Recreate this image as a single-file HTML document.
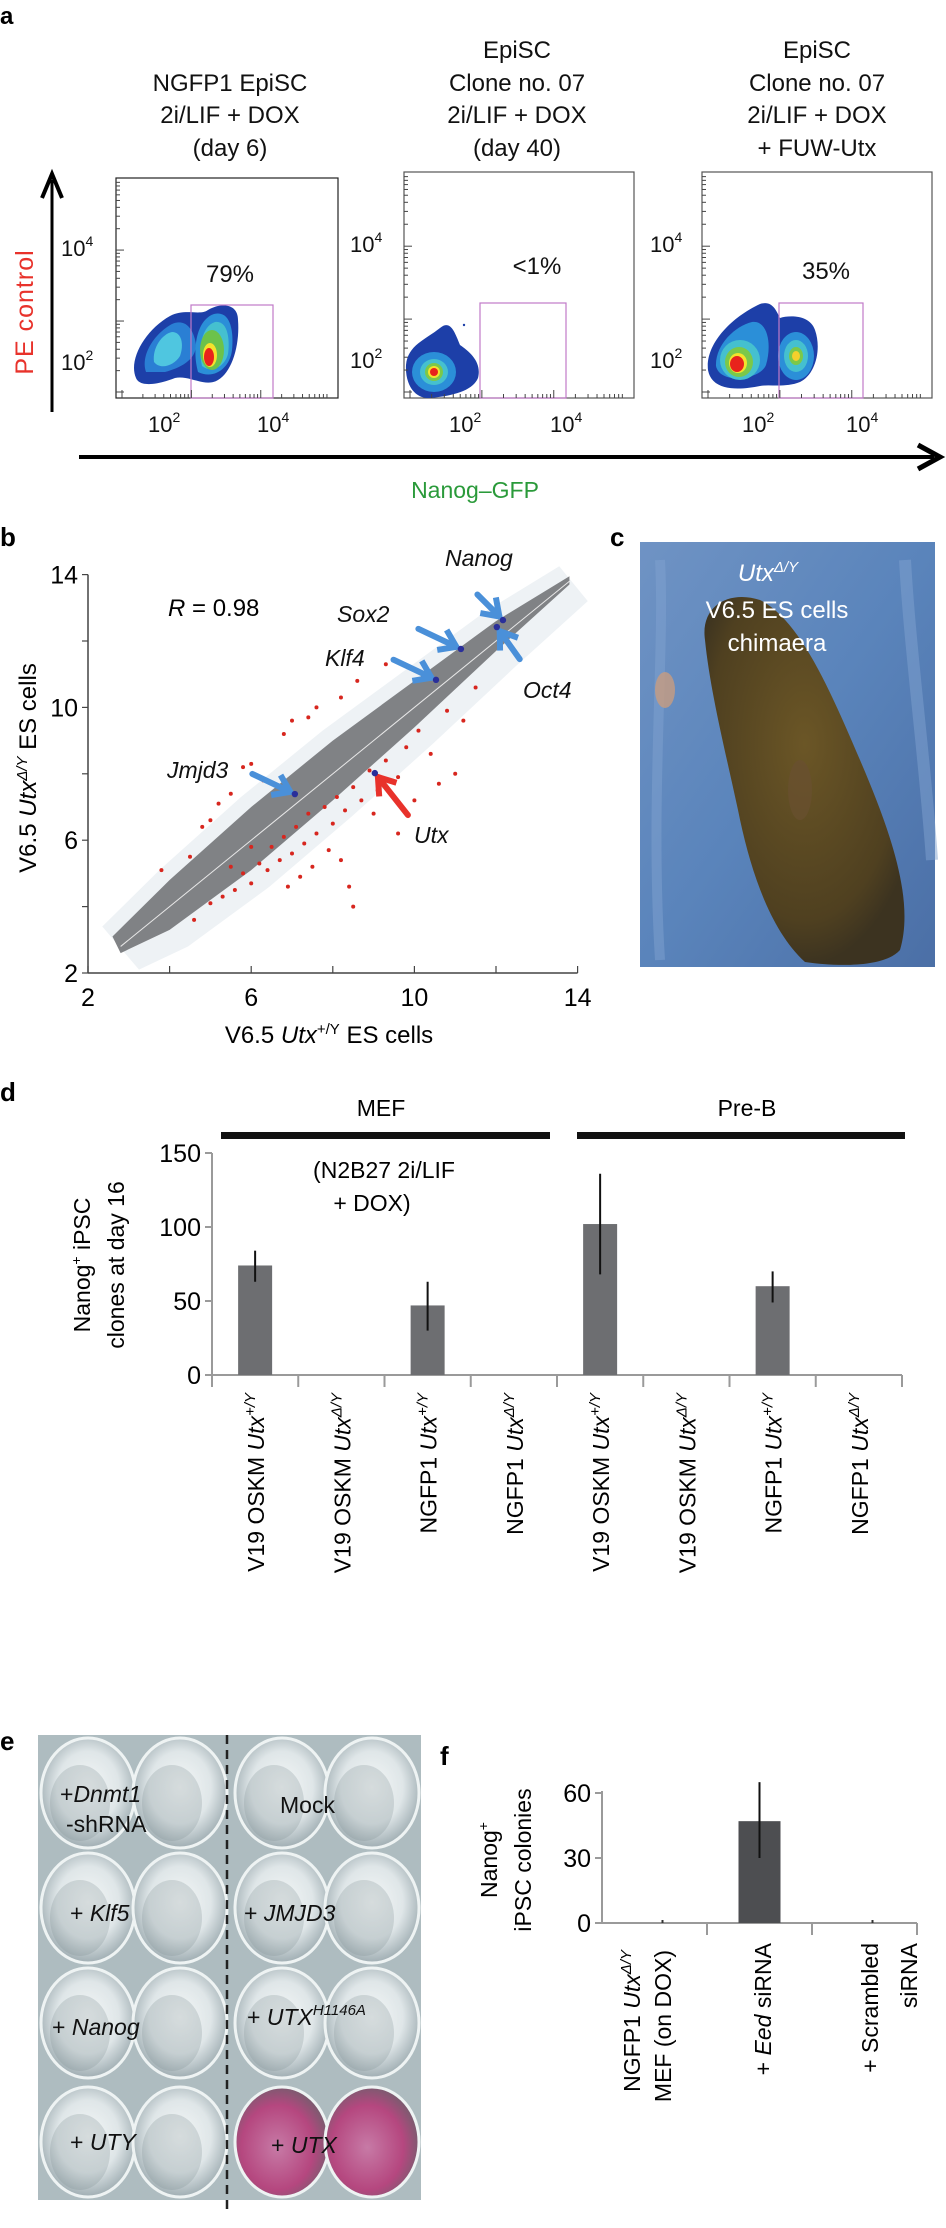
<!DOCTYPE html>
<html><head><meta charset="utf-8">
<style>
html,body{margin:0;padding:0;background:#fff;}
svg{display:block;}
text{font-family:"Liberation Sans",sans-serif;}
</style></head>
<body>
<svg id="fig" width="946" height="2228" viewBox="0 0 946 2228" xmlns="http://www.w3.org/2000/svg">
<defs>
  <radialGradient id="wellg" cx="50%" cy="45%" r="55%">
    <stop offset="0" stop-color="#f4f7f7"/><stop offset="0.6" stop-color="#dfe6e8"/><stop offset="1" stop-color="#9fadb2"/>
  </radialGradient>
  <radialGradient id="pinkg" cx="45%" cy="55%" r="55%">
    <stop offset="0" stop-color="#c77aa6"/><stop offset="0.7" stop-color="#b5477f"/><stop offset="1" stop-color="#7e5a70"/>
  </radialGradient>
  <linearGradient id="bluebg" x1="0" y1="0" x2="1" y2="1">
    <stop offset="0" stop-color="#6f93c4"/><stop offset="0.5" stop-color="#5a84bb"/><stop offset="1" stop-color="#4b6fa6"/>
  </linearGradient>
  <radialGradient id="mouseg" cx="50%" cy="40%" r="60%">
    <stop offset="0" stop-color="#6b5626"/><stop offset="0.8" stop-color="#4f4020"/><stop offset="1" stop-color="#3c3320"/>
  </radialGradient>
</defs>

<!-- ===== Panel a ===== -->
<g>
  <text x="0" y="24" font-size="24" font-weight="bold">a</text>
  <g font-size="24" text-anchor="middle" fill="#111">
    <text x="230" y="91">NGFP1 EpiSC</text>
    <text x="230" y="123">2i/LIF + DOX</text>
    <text x="230" y="156">(day 6)</text>
    <text x="517" y="58">EpiSC</text>
    <text x="517" y="91">Clone no. 07</text>
    <text x="517" y="123">2i/LIF + DOX</text>
    <text x="517" y="156">(day 40)</text>
    <text x="817" y="58">EpiSC</text>
    <text x="817" y="91">Clone no. 07</text>
    <text x="817" y="123">2i/LIF + DOX</text>
    <text x="817" y="156">+ FUW-Utx</text>
  </g>
  <rect x="116" y="178" width="222" height="220" fill="none" stroke="#222" stroke-width="1.2"/>
  <rect x="404" y="172" width="230" height="226" fill="none" stroke="#555" stroke-width="1.2"/>
  <rect x="702" y="172" width="230" height="226" fill="none" stroke="#555" stroke-width="1.2"/>
  <g>
    <path d="M136,378 C128,360 145,330 170,316 C185,308 200,316 208,310 C222,302 238,304 238,320 C240,345 232,372 218,380 C205,388 190,375 175,378 C160,384 140,388 136,378Z" fill="#1d3fa8"/>
    <path d="M146,372 C140,355 155,333 172,324 C186,318 194,330 196,345 C196,360 180,368 165,372Z" fill="#2a7fd4"/>
    <path d="M154,362 C152,348 162,334 172,332 C182,332 184,345 180,356 C174,366 160,370 154,362Z" fill="#4fc6e0"/>
    <path d="M198,372 C192,350 196,320 214,314 C230,310 234,330 232,350 C230,368 214,380 198,372Z" fill="#2b8fd8"/>
    <path d="M202,366 C198,348 202,326 215,322 C228,320 230,340 228,354 C225,366 212,374 202,366Z" fill="#45c0cf"/>
    <ellipse cx="212" cy="350" rx="12" ry="20" fill="#6cc24a"/>
    <ellipse cx="210" cy="355" rx="7" ry="12" fill="#f4e32c"/>
    <ellipse cx="209" cy="357" rx="5" ry="9" fill="#e8231c"/>
  </g>
  <g>
    <path d="M406,365 C408,345 425,340 440,328 C450,320 454,330 460,345 C470,352 482,362 478,378 C472,392 450,396 430,398 C415,399 405,385 406,365Z" fill="#1d3fa8"/>
    <ellipse cx="434" cy="372" rx="22" ry="20" fill="#2b8fd8"/>
    <ellipse cx="434" cy="372" rx="14" ry="13" fill="#45c0cf"/>
    <ellipse cx="434" cy="372" rx="9" ry="9" fill="#7bc84a"/>
    <ellipse cx="434" cy="372" rx="6" ry="6" fill="#f4e32c"/>
    <ellipse cx="434" cy="372" rx="4" ry="4" fill="#e8231c"/>
    <circle cx="464" cy="325" r="1.2" fill="#1d3fa8"/>
  </g>
  <g>
    <path d="M708,370 C705,345 730,318 760,304 C772,300 776,310 780,318 C790,315 810,315 815,330 C822,350 815,375 800,382 C785,388 770,384 760,386 C740,390 712,392 708,370Z" fill="#1d3fa8"/>
    <path d="M716,366 C715,345 735,326 752,322 C768,320 772,345 766,365 C760,380 720,385 716,366Z" fill="#2b8fd8"/>
    <ellipse cx="740" cy="360" rx="20" ry="20" fill="#45c0cf"/>
    <ellipse cx="739" cy="362" rx="14" ry="15" fill="#7bc84a"/>
    <ellipse cx="738" cy="363" rx="9" ry="10" fill="#f4e32c"/>
    <ellipse cx="737" cy="364" rx="7" ry="8" fill="#e8231c"/>
    <ellipse cx="796" cy="356" rx="18" ry="24" fill="#2b8fd8"/>
    <ellipse cx="796" cy="356" rx="12" ry="16" fill="#45c0cf"/>
    <ellipse cx="796" cy="356" rx="7" ry="9" fill="#7bc84a"/>
    <ellipse cx="796" cy="356" rx="4" ry="5" fill="#f4d02c"/>
  </g>
  <rect x="191" y="305" width="82" height="93" fill="none" stroke="#c07ac8" stroke-width="1.2"/>
  <rect x="480" y="303" width="86" height="95" fill="none" stroke="#c07ac8" stroke-width="1.2"/>
  <rect x="779" y="303" width="84" height="95" fill="none" stroke="#c07ac8" stroke-width="1.2"/>
  <g font-size="24" text-anchor="middle" fill="#111">
    <text x="230" y="282">79%</text>
    <text x="537" y="274">&lt;1%</text>
    <text x="826" y="279">35%</text>
  </g>
  <g font-size="22" fill="#111">
    <text x="61" y="256">10<tspan dy="-10" font-size="14">4</tspan></text>
    <text x="61" y="370">10<tspan dy="-10" font-size="14">2</tspan></text>
    <text x="350" y="252">10<tspan dy="-10" font-size="14">4</tspan></text>
    <text x="350" y="368">10<tspan dy="-10" font-size="14">2</tspan></text>
    <text x="650" y="252">10<tspan dy="-10" font-size="14">4</tspan></text>
    <text x="650" y="368">10<tspan dy="-10" font-size="14">2</tspan></text>
    <text x="148" y="432">10<tspan dy="-10" font-size="14">2</tspan></text>
    <text x="257" y="432">10<tspan dy="-10" font-size="14">4</tspan></text>
    <text x="449" y="432">10<tspan dy="-10" font-size="14">2</tspan></text>
    <text x="550" y="432">10<tspan dy="-10" font-size="14">4</tspan></text>
    <text x="742" y="432">10<tspan dy="-10" font-size="14">2</tspan></text>
    <text x="846" y="432">10<tspan dy="-10" font-size="14">4</tspan></text>
  </g>
  <g id="minorTicks" stroke="#444" stroke-width="1"></g>
  <line x1="52" y1="412" x2="52" y2="180" stroke="#000" stroke-width="3"/>
  <path d="M42,198 L52,174 L62,198" fill="none" stroke="#000" stroke-width="4"/>
  <line x1="79" y1="457" x2="934" y2="457" stroke="#000" stroke-width="4"/>
  <path d="M918,445 L940,457 L918,469" fill="none" stroke="#000" stroke-width="5"/>
  <text transform="translate(33,312) rotate(-90)" text-anchor="middle" font-size="25" fill="#e8322b" letter-spacing="1">PE control</text>
  <text x="475" y="498" text-anchor="middle" font-size="23" fill="#2a9a3a">Nanog–GFP</text>
</g>

<!-- ===== Panel b ===== -->
<g>
  <text x="0" y="546" font-size="26" font-weight="bold">b</text>
  <g id="scatter"></g>
  <text x="168" y="616" font-size="24"><tspan font-style="italic">R</tspan> = 0.98</text>
  <g font-size="23" font-style="italic" fill="#111">
    <text x="445" y="566">Nanog</text>
    <text x="337" y="622">Sox2</text>
    <text x="325" y="666">Klf4</text>
    <text x="523" y="698">Oct4</text>
    <text x="167" y="778">Jmjd3</text>
    <text x="414" y="843">Utx</text>
  </g>
  <text transform="translate(36,768) rotate(-90)" text-anchor="middle" font-size="24">V6.5 <tspan font-style="italic">Utx</tspan><tspan dy="-9" font-size="15" font-style="italic">Δ/Y</tspan><tspan dy="9"> ES cells</tspan></text>
  <text x="329" y="1043" text-anchor="middle" font-size="24">V6.5 <tspan font-style="italic">Utx</tspan><tspan dy="-9" font-size="15">+/Y</tspan><tspan dy="9"> ES cells</tspan></text>
</g>

<!-- ===== Panel c ===== -->
<g>
  <text x="610" y="546" font-size="26" font-weight="bold">c</text>
  <rect x="640" y="542" width="295" height="425" fill="url(#bluebg)"/>
  <path d="M660,560 C665,650 650,800 660,960" stroke="#7fa2d0" stroke-width="10" fill="none" opacity="0.5"/>
  <path d="M905,560 C910,650 925,760 932,860" stroke="#7fa2d0" stroke-width="12" fill="none" opacity="0.5"/>
  <path d="M705,640 C700,605 730,590 760,600 C800,620 830,690 860,760 C890,830 915,900 900,950 C885,967 840,967 805,962 C770,930 750,870 738,810 C725,750 710,690 705,640Z" fill="url(#mouseg)"/>
  <ellipse cx="800" cy="790" rx="12" ry="30" fill="#6a5030" opacity="0.7"/>
  <ellipse cx="665" cy="690" rx="10" ry="18" fill="#c89c80" opacity="0.8"/>
  <g fill="#fff" font-size="24" text-anchor="middle">
    <text x="768" y="581" font-style="italic">Utx<tspan dy="-9" font-size="15">Δ/Y</tspan></text>
    <text x="777" y="618">V6.5 ES cells</text>
    <text x="777" y="651">chimaera</text>
  </g>
</g>

<!-- ===== Panel d ===== -->
<g>
  <text x="0" y="1101" font-size="26" font-weight="bold">d</text>
  <text x="381" y="1116" text-anchor="middle" font-size="23">MEF</text>
  <text x="747" y="1116" text-anchor="middle" font-size="23">Pre-B</text>
  <rect x="221" y="1132" width="329" height="7" fill="#111"/>
  <rect x="577" y="1132" width="328" height="7" fill="#111"/>
  <text x="384" y="1178" text-anchor="middle" font-size="23">(N2B27 2i/LIF</text>
  <text x="372" y="1211" text-anchor="middle" font-size="23">+ DOX)</text>
  <g id="chartD"></g>
  <text transform="translate(90,1265) rotate(-90)" text-anchor="middle" font-size="23">Nanog<tspan dy="-9" font-size="14">+</tspan><tspan dy="9"> iPSC</tspan></text>
  <text transform="translate(124,1265) rotate(-90)" text-anchor="middle" font-size="23">clones at day 16</text>
</g>

<!-- ===== Panel e ===== -->
<g>
  <text x="0" y="1750" font-size="26" font-weight="bold">e</text>
  <rect x="38" y="1735" width="383" height="465" fill="#aebcc0"/>
  <g id="wells"></g>
  <line x1="227" y1="1735" x2="227" y2="2212" stroke="#222" stroke-width="2.5" stroke-dasharray="9,6"/>
  <g font-size="23" fill="#111">
    <text x="60" y="1802">+<tspan font-style="italic">Dnmt1</tspan></text>
    <text x="66" y="1832">-shRNA</text>
    <text x="280" y="1813">Mock</text>
    <text x="70" y="1921">+ <tspan font-style="italic">Klf5</tspan></text>
    <text x="244" y="1921">+ <tspan font-style="italic">JMJD3</tspan></text>
    <text x="52" y="2035">+ <tspan font-style="italic">Nanog</tspan></text>
    <text x="247" y="2025">+ <tspan font-style="italic">UTX</tspan><tspan dy="-10" font-size="15" font-style="italic">H1146A</tspan></text>
    <text x="70" y="2150">+ <tspan font-style="italic">UTY</tspan></text>
    <text x="271" y="2153">+ <tspan font-style="italic">UTX</tspan></text>
  </g>
</g>

<!-- ===== Panel f ===== -->
<g>
  <text x="440" y="1765" font-size="26" font-weight="bold">f</text>
  <g id="chartF"></g>
  <text transform="translate(497,1860) rotate(-90)" text-anchor="middle" font-size="23">Nanog<tspan dy="-9" font-size="14">+</tspan></text>
  <text transform="translate(531,1860) rotate(-90)" text-anchor="middle" font-size="23">iPSC colonies</text>
</g>
</svg>

<script>
// ---------- Panel b data ----------
const bTicks = [2, 6, 10, 14];
const bandUpperX = [2.6, 4, 6, 8, 10, 12, 13.8];
const bandUpperY = [3.1, 4.8, 7.0, 9.0, 10.8, 12.6, 13.95];
const bandLowerX = [13.8, 12, 10, 8, 6, 4, 2.8];
const bandLowerY = [13.7, 11.7, 9.4, 7.2, 5.1, 3.3, 2.6];
const redX = [4.5,5.0,5.2,5.5,5.8,6.0,6.3,6.8,7.0,7.4,7.6,8.2,8.6,9.3,4.6,5.0,5.3,5.6,5.8,6.0,6.2,6.4,6.5,6.7,6.8,7.0,7.1,7.3,7.4,7.6,7.8,8.0,8.1,8.3,8.5,8.7,8.9,9.1,9.3,9.6,9.8,10.1,10.4,10.8,11.2,11.5,11.0,8.5,8.4,9.6,10.6,7.5,6.0,5.5,7.9,9.0,10.0,6.9,7.2,8.2,3.8,4.8];
const redY = [5.5,6.6,7.1,7.4,8.2,8.3,7.8,9.2,9.6,9.7,10.0,10.3,10.8,11.3,3.6,4.1,4.3,4.5,5.0,4.7,5.3,5.1,5.8,5.4,6.1,5.6,6.4,5.9,6.8,6.2,7.0,6.5,7.3,6.9,7.6,7.2,8.1,7.5,8.4,7.9,8.8,9.3,8.6,9.9,9.6,10.6,8.0,4.0,4.6,6.2,7.7,5.2,5.8,5.2,5.7,6.8,7.2,4.6,4.9,5.4,5.1,6.4];
const geneNames = ["Nanog","Oct4","Sox2","Klf4","Jmjd3","Utx"];
const geneX = [12.17, 12.02, 11.14, 10.53, 7.07, 9.03];
const geneY = [12.63, 12.42, 11.76, 10.83, 7.39, 8.02];

// ---------- Panel d data ----------
const dCategories = ["V19 OSKM +/Y","V19 OSKM Δ/Y","NGFP1 +/Y","NGFP1 Δ/Y","V19 OSKM +/Y (Pre-B)","V19 OSKM Δ/Y (Pre-B)","NGFP1 +/Y (Pre-B)","NGFP1 Δ/Y (Pre-B)"];
const dLabelPrefix = ["V19 OSKM","V19 OSKM","NGFP1","NGFP1","V19 OSKM","V19 OSKM","NGFP1","NGFP1"];
const dLabelSup = ["+/Y","Δ/Y","+/Y","Δ/Y","+/Y","Δ/Y","+/Y","Δ/Y"];
const dValues = [74, 0, 47, 0, 102, 0, 60, 0];
const dErrLow = [63, 0, 30, 0, 68, 0, 49, 0];
const dErrHigh = [84, 0, 63, 0, 136, 0, 70, 0];
const dTicks = [0, 50, 100, 150];

// ---------- Panel f data ----------
const fCategories = ["NGFP1 UtxΔ/Y MEF (on DOX)", "+ Eed siRNA", "+ Scrambled siRNA"];
const fValues = [0, 47, 0];
const fErrLow = [0, 30, 0];
const fErrHigh = [0, 65, 0];
const fTicks = [0, 30, 60];

const NS = "http://www.w3.org/2000/svg";
function mk(tag, attrs, parent) {
  const e = document.createElementNS(NS, tag);
  for (const k in attrs) e.setAttribute(k, attrs[k]);
  parent.appendChild(e);
  return e;
}

(function(){
  const g = document.getElementById('minorTicks');
  const frames = [[116,338,178],[404,634,172],[702,932,172]];
  frames.forEach(f => {
    for (let d = 0; d < 3; d++) {
      const span = (f[1]-f[0]) / 3.2;
      for (let k = 1; k <= 9; k++) {
        const x = f[0] + 6 + d*span + Math.log10(k)*span;
        const t = mk('line', {x1:x, y1:398, x2:x, y2: k===1?390:394}, g);
        
        
      }
    }
    for (let d = 0; d < 3; d++) {
      const span = (398 - f[2]) / 3.1;
      for (let k = 1; k <= 9; k++) {
        const y = 392 - d*span - Math.log10(k)*span;
        if (y < f[2]) continue;
        const t = mk('line', {x1:f[0], y1:y, x2:f[0]+(k===1?8:4), y2:y}, g);
        
        
      }
    }
  });
})();

(function(){
  const g = document.getElementById('scatter');
  const bx = v => 88 + (v - 2) * 40.8;
  const by = v => 973 - (v - 2) * 33.2;
  const ya = mk('line', {x1:bx(2), y1:by(2), x2:bx(2), y2:by(14), stroke:'#444', 'stroke-width':1.5}, g);
  
  
  const xa = mk('line', {x1:bx(2), y1:by(2), x2:bx(14), y2:by(2), stroke:'#444', 'stroke-width':1.5}, g);
  
  
  for (let v = 2; v <= 14; v += 2) {
    const t1 = mk('line', {x1:bx(2)-6, y1:by(v), x2:bx(2), y2:by(v), stroke:'#444', 'stroke-width':1.2}, g);
    
    
    const t2 = mk('line', {x1:bx(v), y1:by(2), x2:bx(v), y2:by(2)-7, stroke:'#444', 'stroke-width':1.2}, g);
    
    
  }
  bTicks.forEach(v => {
    const ty = mk('text', {x:78, y:by(v)+9, 'text-anchor':'end', 'font-size':25}, g);
    ty.textContent = v;
    
    
    const tx = mk('text', {x:bx(v), y:1006, 'text-anchor':'middle', 'font-size':25}, g);
    tx.textContent = v;
    
    
  });
  let pts = [];
  for (let i = 0; i < bandUpperX.length; i++) pts.push(bx(bandUpperX[i]-0.25)+','+by(bandUpperY[i]+0.3));
  for (let i = 0; i < bandLowerX.length; i++) pts.push(bx(bandLowerX[i]+0.45)+','+by(bandLowerY[i]-0.5));
  const halo = mk('polygon', {points:pts.join(' '), fill:'#eef2f5'}, g);
  
  
  pts = [];
  for (let i = 0; i < bandUpperX.length; i++) pts.push(bx(bandUpperX[i])+','+by(bandUpperY[i]));
  for (let i = 0; i < bandLowerX.length; i++) pts.push(bx(bandLowerX[i])+','+by(bandLowerY[i]));
  const band = mk('polygon', {points:pts.join(' '), fill:'#808285'}, g);
  
  
  const diag = mk('line', {x1:bx(2.8), y1:by(2.8), x2:bx(13.8), y2:by(13.8), stroke:'#e8e8e8', 'stroke-width':1}, g);
  
  
  for (let i = 0; i < redX.length; i++) {
    const c = mk('circle', {cx:bx(redX[i]), cy:by(redY[i]), r:2, fill:'#d7261e'}, g);
    
    
  }
  const arrowSpecs = [[-22,-22,'#4a90d9'],[20,28,'#4a90d9'],[-38,-18,'#4a90d9'],[-38,-18,'#4a90d9'],[-38,-18,'#4a90d9'],[30,38,'#e8322b']];
  for (let i = 0; i < geneX.length; i++) {
    const px = bx(geneX[i]), py = by(geneY[i]);
    const dx = arrowSpecs[i][0], dy = arrowSpecs[i][1];
    const len = Math.hypot(dx, dy), ux = dx/len, uy = dy/len;
    const tipx = px + ux*5, tipy = py + uy*5;
    const ar = mk('g', {}, g);
    
    
    mk('line', {x1:tipx, y1:tipy, x2:tipx+dx, y2:tipy+dy, stroke:arrowSpecs[i][2], 'stroke-width':6, 'stroke-linecap':'round'}, ar);
    const nx = -uy, ny = ux;
    mk('polyline', {points:(tipx+ux*16+nx*11)+','+(tipy+uy*16+ny*11)+' '+tipx+','+tipy+' '+(tipx+ux*16-nx*11)+','+(tipy+uy*16-ny*11), fill:'none', stroke:arrowSpecs[i][2], 'stroke-width':6, 'stroke-linejoin':'miter'}, ar);
    const d = mk('circle', {cx:px, cy:py, r:3.2, fill:'#2a2f9a'}, g);
    
    
  }
})();

(function(){
  const g = document.getElementById('chartD');
  const x0 = 212, x1 = 902, n = dCategories.length, cw = (x1 - x0) / n;
  const dy = v => 1375 - v * 1.48;
  const cx = i => x0 + cw * (i + 0.5);
  const ya = mk('line', {x1:x0, y1:dy(0)+1, x2:x0, y2:dy(150), stroke:'#9a9a9a', 'stroke-width':2}, g);
  
  
  const xa = mk('line', {x1:x0-6, y1:dy(0), x2:x1, y2:dy(0), stroke:'#9a9a9a', 'stroke-width':2}, g);
  
  
  dTicks.forEach(v => {
    const t = mk('line', {x1:x0-7, y1:dy(v), x2:x0, y2:dy(v), stroke:'#9a9a9a', 'stroke-width':2}, g);
    
    
    const l = mk('text', {x:x0-11, y:dy(v)+9, 'text-anchor':'end', 'font-size':25}, g);
    l.textContent = v;
    
    
  });
  for (let i = 0; i <= n; i++) {
    const t = mk('line', {x1:x0 + cw*i, y1:dy(0), x2:x0 + cw*i, y2:dy(0)+12, stroke:'#9a9a9a', 'stroke-width':2}, g);
    
    
  }
  for (let i = 0; i < n; i++) {
    if (dValues[i] > 0) {
      const b = mk('rect', {x:cx(i)-17, y:dy(dValues[i]), width:34, height:dy(0)-dy(dValues[i]), fill:'#6d6e71'}, g);
      
      
      const e = mk('line', {x1:cx(i), y1:dy(dErrHigh[i]), x2:cx(i), y2:dy(dErrLow[i]), stroke:'#111', 'stroke-width':2}, g);
      
      
    }
    const t = mk('text', {transform:'translate(' + (cx(i)+9) + ',1393) rotate(-90)', 'text-anchor':'end', 'font-size':23}, g);
    
    
    t.appendChild(document.createTextNode(dLabelPrefix[i] + ' '));
    const it = mk('tspan', {'font-style':'italic'}, t);
    it.textContent = 'Utx';
    const sp = mk('tspan', {dy:-9, 'font-size':15, 'font-style':'italic'}, t);
    sp.textContent = dLabelSup[i];
  }
})();

(function(){
  const g = document.getElementById('wells');
  const cols = [88, 180, 282, 372], rows = [1793, 1908, 2023, 2142];
  for (let r = 0; r < 4; r++) for (let c = 0; c < 4; c++) {
    const pink = (r === 3 && c >= 2);
    const w = mk('ellipse', {cx:cols[c], cy:rows[r], rx:47, ry:55, fill: pink ? 'url(#pinkg)' : 'url(#wellg)', stroke:'#eef3f3', 'stroke-width':3}, g);
    
    
    const s = mk('ellipse', {cx:cols[c]-8, cy:rows[r]+10, rx:30, ry:38, fill:'#7d8a8e', opacity: pink ? 0 : 0.25}, g);
    
    
  }
})();

(function(){
  const g = document.getElementById('chartF');
  const x0 = 602, x1 = 917, n = fCategories.length, cw = (x1 - x0) / n;
  const fy = v => 1923 - v * (130/60);
  const cx = i => x0 + cw * (i + 0.5);
  const ya = mk('line', {x1:x0, y1:fy(0)+1, x2:x0, y2:fy(60)-2, stroke:'#9a9a9a', 'stroke-width':2}, g);
  
  
  const xa = mk('line', {x1:x0-7, y1:fy(0), x2:x1, y2:fy(0), stroke:'#9a9a9a', 'stroke-width':2}, g);
  
  
  fTicks.forEach(v => {
    const t = mk('line', {x1:x0-7, y1:fy(v), x2:x0, y2:fy(v), stroke:'#9a9a9a', 'stroke-width':2}, g);
    
    
    const l = mk('text', {x:x0-11, y:fy(v)+9, 'text-anchor':'end', 'font-size':25}, g);
    l.textContent = v;
    
    
  });
  for (let i = 1; i <= n; i++) {
    const t = mk('line', {x1:x0 + cw*i, y1:fy(0), x2:x0 + cw*i, y2:fy(0)+12, stroke:'#9a9a9a', 'stroke-width':2}, g);
    
    
  }
  for (let i = 0; i < n; i++) {
    if (fValues[i] > 0) {
      const b = mk('rect', {x:cx(i)-21, y:fy(fValues[i]), width:42, height:fy(0)-fy(fValues[i]), fill:'#4d4e51'}, g);
      
      
      const e = mk('line', {x1:cx(i), y1:fy(fErrHigh[i]), x2:cx(i), y2:fy(fErrLow[i]), stroke:'#111', 'stroke-width':2}, g);
      
      
    } else {
      const d = mk('line', {x1:cx(i)+8, y1:fy(0), x2:cx(i)+8, y2:fy(0)-3, stroke:'#333', 'stroke-width':2}, g);
      
      
    }
  }
  function rtext(x, y, parts, name) {
    const t = mk('text', {transform:'translate(' + x + ',' + y + ') rotate(-90)', 'text-anchor':'end', 'font-size':23}, g);
    
    
    parts.forEach(p => {
      const s = mk('tspan', p[1], t);
      s.textContent = p[0];
    });
  }
  rtext(640, 1950, [['NGFP1 ',{}],['Utx',{'font-style':'italic'}],['Δ/Y',{dy:-9,'font-size':15,'font-style':'italic'}]], 'f-x-label-1a');
  rtext(671, 1950, [['MEF (on DOX)',{}]], 'f-x-label-1b');
  rtext(771, 1943, [['+ ',{}],['Eed',{'font-style':'italic'}],[' siRNA',{}]], 'f-x-label-2');
  rtext(878, 1943, [['+ Scrambled',{}]], 'f-x-label-3a');
  rtext(917, 1943, [['siRNA',{}]], 'f-x-label-3b');
})();
</script>
</body></html>
